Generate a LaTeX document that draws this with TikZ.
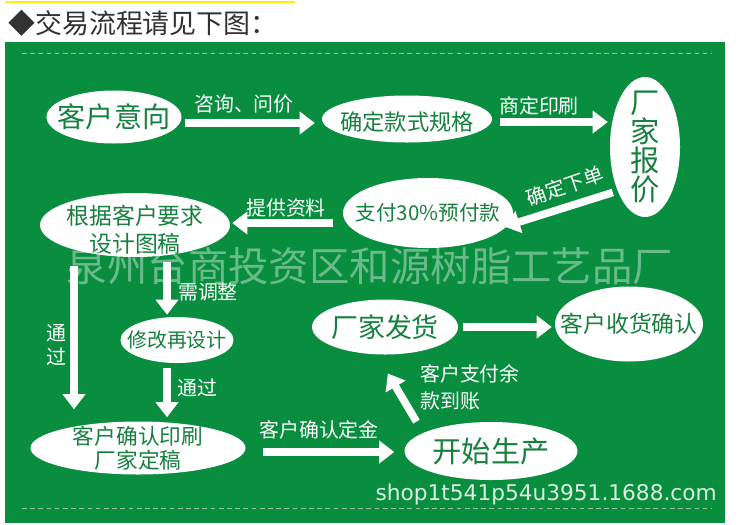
\documentclass[tikz,border=0pt]{standalone}
\usepackage{fontspec}
\setmainfont{Noto Sans CJK SC}
\newfontfamily\urlfont{DejaVu Sans}
\usetikzlibrary{shapes.geometric,arrows.meta}
\definecolor{verdefondo}{RGB}{8,142,62}
\definecolor{verdetexto}{RGB}{22,128,62}
\definecolor{guiones}{RGB}{150,196,160}
\definecolor{titulo}{RGB}{50,50,50}

\begin{document}
\begin{tikzpicture}[x=0.03cm, y=-0.03cm]
% Estilos
\tikzstyle{ovalo} = [ellipse, fill=white, inner sep=0pt]
\tikzstyle{texto} = [text=verdetexto, align=center, inner sep=0pt]
\tikzstyle{flecha} = [draw=white, line width=6.5pt, -{Triangle[length=13pt, width=19pt]}]
\tikzstyle{etiqueta} = [text=white, inner sep=0pt, font=\fontsize{17}{20}\selectfont]

\useasboundingbox (0,0) rectangle (739,524);

% Titulo
\draw[yellow, line width=1.7pt] (5,2) -- (295,2);
\node[anchor=west, text=titulo, inner sep=0pt, font=\fontsize{23}{26}\selectfont] (titulo) at (8,23) {◆交易流程请见下图：};

% Fondo verde
\fill[verdefondo] (5,42) rectangle (725,523);
\draw[guiones, line width=0.8pt, dash pattern=on 4pt off 3pt] (22,53) -- (712,53);
\draw[guiones, line width=0.8pt, dash pattern=on 4pt off 3pt] (22,508) -- (712,508);

% Etapas
\node[ovalo, minimum width=4.05cm, minimum height=1.59cm,
  label={[texto, font=\fontsize{24}{28}\selectfont]center:客户意向}] (intent) at (114,117) {};
\node[ovalo, minimum width=5.1cm, minimum height=1.41cm,
  label={[texto, yshift=-0.09cm, font=\fontsize{19}{22}\selectfont]center:确定款式规格}] (spec) at (407,119) {};
\node[ovalo, minimum width=2.1cm, minimum height=4.2cm,
  label={[texto, font=\fontsize{25}{25}\selectfont]center:厂\\家\\报\\价}] (quote) at (645,147) {};
\node[ovalo, minimum width=5.1cm, minimum height=2.1cm,
  label={[texto, font=\fontsize{17.5}{20}\selectfont]center:支付30\%预付款}] (deposit) at (428,213) {};
\node[ovalo, minimum width=5.7cm, minimum height=1.92cm,
  label={[texto, yshift=-0.15cm, font=\fontsize{19.5}{24}\selectfont]center:根据客户要求\\设计图稿}] (design) at (135,225) {};
\node[ovalo, minimum width=3.39cm, minimum height=1.38cm,
  label={[texto, font=\fontsize{17}{20}\selectfont]center:修改再设计}] (revise) at (177,340) {};
\node[ovalo, minimum width=6.45cm, minimum height=1.59cm,
  label={[texto, font=\fontsize{18.5}{20.5}\selectfont]center:客户确认印刷\\厂家定稿}] (confirm) at (138,448) {};
\node[ovalo, minimum width=4.38cm, minimum height=1.65cm,
  label={[texto, font=\fontsize{23}{26}\selectfont]center:厂家发货}] (ship) at (385,327) {};
\node[ovalo, minimum width=4.44cm, minimum height=2.25cm,
  label={[texto, font=\fontsize{19.5}{22}\selectfont]center:客户收货确认}] (receive) at (629,324) {};
\node[ovalo, minimum width=5.19cm, minimum height=1.74cm,
  label={[texto, font=\fontsize{25}{28}\selectfont]center:开始生产}] (produce) at (491,451) {};

% Flechas
\draw[flecha, shorten <=0.09cm, shorten >=0.21cm] ([yshift=-0.18cm]intent.east) -- ([yshift=-0.18cm]intent.east -| spec.west);
\draw[flecha, shorten <=0.24cm, shorten >=0.06cm] ([yshift=-0.09cm]spec.east) -- ([yshift=-0.09cm]spec.east -| quote.west);
\draw[flecha, shorten <=0.15cm, shorten >=-0.1cm] (quote.238) -- (deposit.-9);
\draw[flecha, shorten <=0.3cm, shorten >=0.06cm] ([yshift=-0.3cm]deposit.west) -- ([yshift=-0.3cm]deposit.west -| design.east);
\draw[flecha, shorten <=0.27cm, shorten >=0.36cm] ([xshift=-1.83cm]design.south) -- ([xshift=-1.83cm]design.south |- confirm.north);
\draw[flecha, shorten <=0.15cm, shorten >=0.06cm] ([xshift=0.96cm]design.south) -- ([xshift=0.96cm]design.south |- revise.north);
\draw[flecha, shorten <=0.15cm, shorten >=0.12cm] ([xshift=-0.3cm]revise.south) -- ([xshift=-0.3cm]revise.south |- confirm.north);
\draw[flecha, shorten <=0.51cm, shorten >=0.3cm] ([yshift=-0.12cm]confirm.east) -- ([yshift=-0.12cm]confirm.east -| produce.west);
\draw[flecha, shorten <=0.39cm, shorten >=0.66cm] (produce.165) -- (ship.-107);
\draw[flecha, shorten <=0.15cm, shorten >=0.09cm] (ship.east) -- (ship.east -| receive.west);

% Etiquetas
\node[etiqueta] (l-consulta) at (244,104) {咨询、问价};
\node[etiqueta] (l-acuerdo) at (539,106) {商定印刷};
\node[etiqueta, rotate=19] (l-pedido) at (565,186) {确定下单};
\node[etiqueta] (l-datos) at (286,208) {提供资料};
\node[etiqueta] (l-ajuste) at (208,292) {需调整};
\node[etiqueta, align=center, font=\fontsize{17}{21}\selectfont] (l-pasa1) at (56,345) {通\\过};
\node[etiqueta] (l-pasa2) at (197,388) {通过};
\node[etiqueta] (l-senal) at (319,430) {客户确认定金};
\node[etiqueta, anchor=west, align=left, font=\fontsize{17}{23}\selectfont] (l-saldo) at (420,387) {客户支付余\\款到账};

% Marca de agua
\node[text=white, opacity=0.4, inner sep=0pt, font=\fontsize{34.5}{36}\selectfont] (marca) at (370,266) {泉州台商投资区和源树脂工艺品厂};
\node[text=white, opacity=0.85, inner sep=0pt, anchor=east, font=\urlfont\fontsize{18.5}{20}\selectfont] (web) at (717,495) {shop1t541p54u3951.1688.com};
\end{tikzpicture}
\end{document}
